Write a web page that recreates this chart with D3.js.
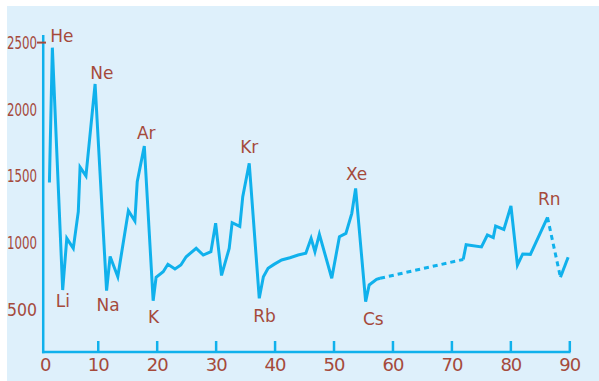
<!DOCTYPE html>
<html>
<head>
<meta charset="utf-8">
<script src="https://cdn.jsdelivr.net/npm/d3@7"></script>
<style>
  html, body { margin: 0; padding: 0; background: #ffffff; }
  svg { display: block; }
</style>
</head>
<body>
<svg id="chart" width="599" height="381"></svg>
<script>
// ---- data ----
const atomicNumber = [
  1.8, 2.3, 4.05, 4.75, 5.85, 6.7, 7.0, 8.0, 9.55, 11.5,
  12.1, 13.4, 15.2, 16.3, 16.7, 17.9, 19.4, 19.9, 21.1, 21.9,
  23.1, 24.1, 25.0, 26.7, 27.9, 29.2, 30.0, 31.0, 32.3, 32.8,
  34.1, 34.6, 35.7, 37.4, 38.1, 38.9, 39.9, 41.2, 42.6, 44.0,
  45.3, 46.2, 46.85, 47.6, 49.7, 51.0, 52.1, 53.1, 53.75, 55.45,
  56.05, 57.3, 57.9, 72.0, 72.5, 75.1, 76.1, 77.1, 77.5, 78.9,
  80.1, 81.2, 82.1, 83.4, 86.3, 88.5, 89.8
];
const ionizationEnergy = [
  1453, 2462, 648, 1035, 960, 1234, 1568, 1502, 2190, 643,
  899, 748, 1242, 1165, 1459, 1726, 568, 743, 785, 841,
  805, 835, 897, 960, 910, 935, 1148, 757, 960, 1152,
  1124, 1347, 1597, 586, 748, 811, 840, 873, 890, 910,
  923, 1035, 935, 1065, 736, 1047, 1072, 1222, 1409, 561,
  686, 728, 736, 877, 987, 971, 1060, 1040, 1127, 1102,
  1277, 835, 918, 915, 1192, 743, 894
];
// segments starting at these point indices are drawn dotted (missing data)
const dottedSegmentStarts = [52, 64];

const xTickValues = [0, 10, 20, 30, 40, 50, 60, 70, 80, 90];
const yTickValues = [500, 1000, 1500, 2000, 2500];

const labelNames = ["He", "Ne", "Ar", "Kr", "Xe", "Rn", "Li", "Na", "K", "Rb", "Cs"];
const labelPointIndex = [1, 8, 15, 32, 48, 64, 2, 9, 16, 33, 49];

// ---- styling ----
const lineColor = "#10b1ec";
const textColor = "#a54a3b";
const panelColor = "#def0fb";
const font = "'DejaVu Sans', Verdana, sans-serif";

const svg = d3.select("#chart");

svg.append("rect")
  .attr("x", 7).attr("y", 6)
  .attr("width", 592).attr("height", 375)
  .attr("fill", panelColor);

const x = d3.scaleLinear().domain([0, 90]).range([38.8, 569.3]);
const y = d3.scaleLinear().domain([0, 2500]).range([376.6, 42.6]);

const axisY = 352;
const axisX = x(0.75);

// ---- x axis ----
const xAxis = d3.axisBottom(x)
  .tickValues(xTickValues.filter(d => d !== 0))
  .tickSizeInner(-11)
  .tickSizeOuter(0)
  .tickPadding(6)
  .tickFormat(d3.format("d"));

const gx = svg.append("g").attr("transform", `translate(0,${axisY})`).call(xAxis);
gx.select(".domain").remove();
gx.selectAll(".tick line").attr("stroke", lineColor).attr("stroke-width", 2.5);
gx.selectAll(".tick text")
  .attr("fill", textColor)
  .style("font-family", font)
  .style("font-size", "18px")
  .style("letter-spacing", "-1px");

svg.append("text")
  .attr("x", axisX + 2.5)
  .attr("y", axisY + 6)
  .attr("dy", "0.71em")
  .attr("text-anchor", "middle")
  .attr("fill", textColor)
  .style("font-family", font)
  .style("font-size", "18px")
  .text(String(xTickValues[0]));

svg.append("line")
  .attr("x1", axisX - 1.25).attr("x2", x(90) + 1.25)
  .attr("y1", axisY).attr("y2", axisY)
  .attr("stroke", lineColor).attr("stroke-width", 2.5);

// ---- y axis ----
svg.append("line")
  .attr("x1", axisX).attr("x2", axisX)
  .attr("y1", 35).attr("y2", axisY + 1.25)
  .attr("stroke", lineColor).attr("stroke-width", 2.5);

svg.selectAll(".ylab")
  .data(yTickValues)
  .join("text")
  .attr("class", "ylab")
  .attr("x", 7)
  .attr("y", d => y(d))
  .attr("dy", "0.36em")
  .attr("textLength", 30)
  .attr("lengthAdjust", "spacingAndGlyphs")
  .attr("fill", textColor)
  .style("font-family", font)
  .style("font-size", "17px")
  .text(d => d);

svg.append("line")
  .attr("x1", 37).attr("x2", 46)
  .attr("y1", y(2500)).attr("y2", y(2500))
  .attr("stroke", textColor).attr("stroke-width", 2);

// ---- data line (solid / dotted runs) ----
const points = atomicNumber.map((z, i) => ({ z, v: ionizationEnergy[i] }));
const runs = [];
for (let i = 0; i < points.length - 1; i++) {
  const dotted = dottedSegmentStarts.includes(i);
  const last = runs[runs.length - 1];
  if (last && last.dotted === dotted) {
    last.pts.push(points[i + 1]);
  } else {
    runs.push({ dotted, pts: [points[i], points[i + 1]] });
  }
}

const line = d3.line().x(d => x(d.z)).y(d => y(d.v));

svg.selectAll(".run")
  .data(runs)
  .join("path")
  .attr("class", "run")
  .attr("d", d => line(d.pts))
  .attr("fill", "none")
  .attr("stroke", lineColor)
  .attr("stroke-width", 3)
  .attr("stroke-linejoin", "miter")
  .attr("stroke-miterlimit", 4)
  .attr("stroke-dasharray", d => d.dotted ? "5,4" : null);

// ---- element labels ----
const labelOffsets = {
  He: [9.4, -6], Ne: [6.7, -5], Ar: [2, -7], Kr: [0, -10.6], Xe: [1, -8.3], Rn: [1.8, -12.3],
  Li: [0.1, 16.7], Na: [1.6, 20], K: [0.5, 22.6], Rb: [5.2, 24], Cs: [7.6, 23.3]
};

svg.selectAll(".elab")
  .data(labelNames.map((name, i) => ({ name, p: points[labelPointIndex[i]] })))
  .join("text")
  .attr("class", "elab")
  .attr("x", d => x(d.p.z) + labelOffsets[d.name][0])
  .attr("y", d => y(d.p.v) + labelOffsets[d.name][1])
  .attr("text-anchor", "middle")
  .attr("fill", textColor)
  .style("font-family", font)
  .style("font-size", "17px")
  .text(d => d.name);
</script>
</body>
</html>
